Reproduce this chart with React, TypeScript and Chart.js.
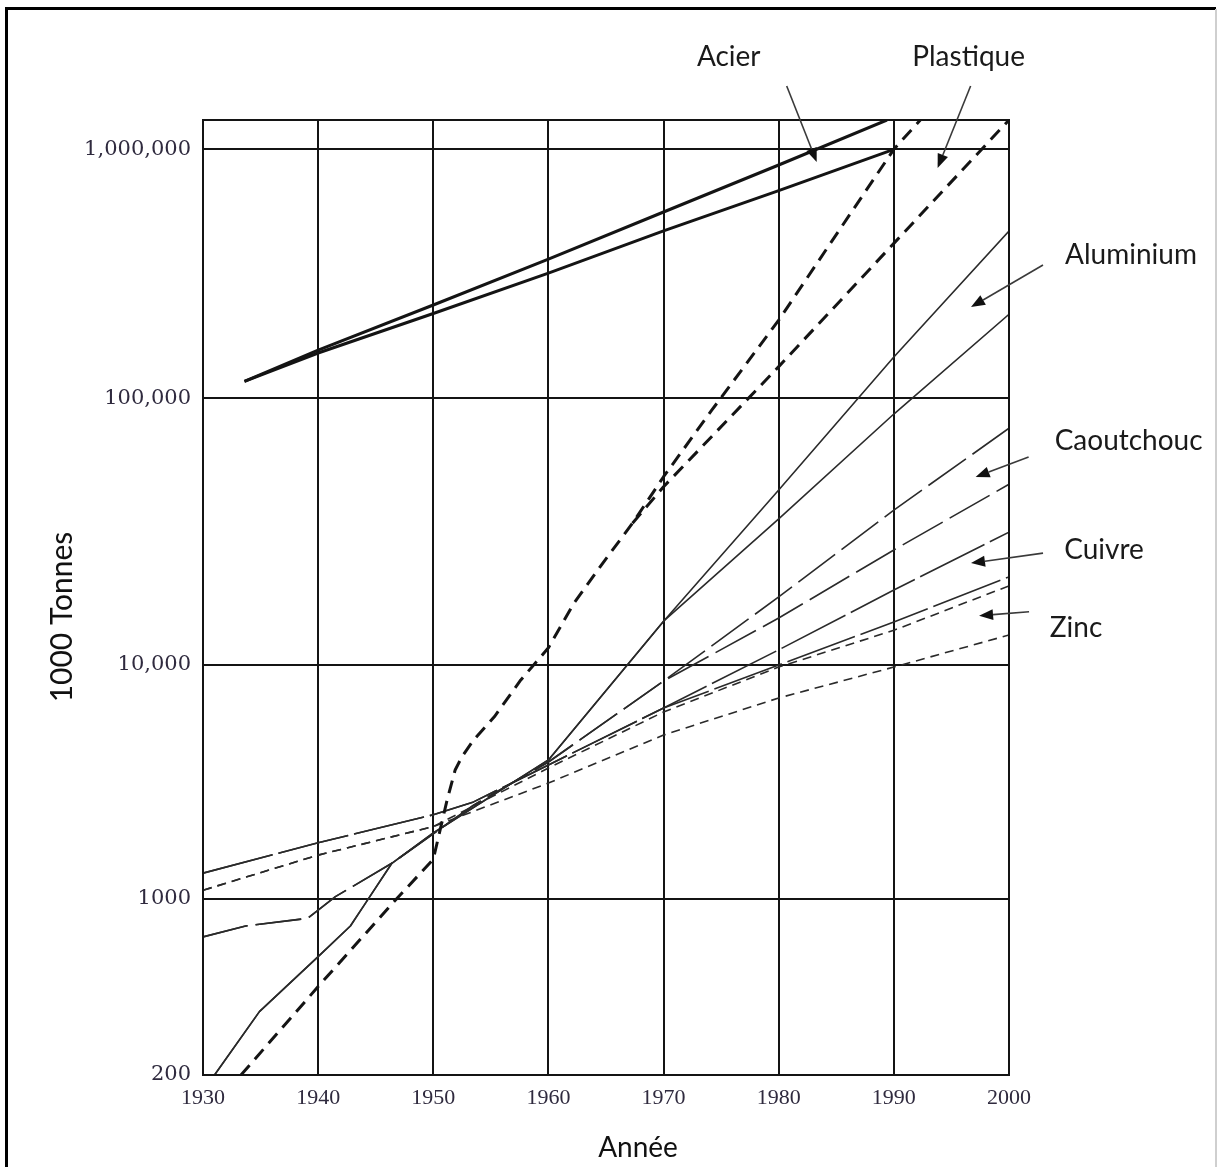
import React, { useEffect, useRef } from 'react';
import { Chart, registerables, LogarithmicScale } from 'chart.js';

// ---------------- data ----------------
const xTickYears = [1930, 1940, 1950, 1960, 1970, 1980, 1990, 2000];
const yTickValues = [200, 1000, 10000, 100000, 1000000];
const yTickLabels = ['200', '1000', '10,000', '100,000', '1,000,000'];
const yAxisMin = 200;
const yAxisMax = 1300000;

// Acier (steel): two projections
const acierHighYears = [1933.6, 1940, 1950, 1960, 1970, 1980, 1989.4];
const acierHighValues = [117000, 156000, 237000, 362000, 560000, 865000, 1300000];
const acierLowYears = [1933.6, 1940, 1950, 1960, 1970, 1980, 1990];
const acierLowValues = [117000, 152000, 219000, 318000, 470000, 682000, 1000000];

// Plastique
const plastiqueHighYears = [1933.3, 1940, 1946.8, 1950, 1951.2, 1951.9, 1952.5, 1953.5, 1955.3, 1957.6, 1960, 1962.2, 1964.5, 1967.3, 1970, 1974.2, 1980, 1984.5, 1990, 1992.3];
const plastiqueHighValues = [200, 449, 1000, 1478, 2650, 3560, 4060, 4780, 6010, 8630, 11600, 17000, 23400, 34000, 50800, 90400, 206000, 420000, 1000000, 1300000];
const plastiqueLowYears = [1967.3, 1970, 1980, 1990, 2000];
const plastiqueLowValues = [34000, 46600, 134000, 419000, 1300000];

// Aluminium
const aluminiumYears = [1931.0, 1934.9, 1940, 1942.8, 1944.1, 1946.4, 1950, 1960, 1970, 1980, 1990, 2000];
const aluminiumHighValues = [200, 357, 590, 781, 961, 1421, 1915, 3930, 14600, 45300, 146500, 470000];
const aluminiumLowValues = [200, 357, 590, 781, 961, 1421, 1915, 3930, 14600, 35300, 87300, 217500];

// Caoutchouc
const caoutchoucYears = [1930, 1933.7, 1939.1, 1940, 1941.5, 1946.4, 1953.5, 1960, 1970, 1980, 1990, 2000];
const caoutchoucHighValues = [707, 781, 838, 904, 1023, 1421, 2520, 3850, 8540, 18000, 38100, 77200];
const caoutchoucLowValues = [707, 781, 838, 904, 1023, 1421, 2520, 3850, 8540, 15000, 27000, 47600];

// Cuivre
const cuivreYears = [1930, 1940, 1950, 1953.5, 1960, 1970, 1980, 1990, 2000];
const cuivreHighValues = [1290, 1740, 2290, 2600, 3740, 6550, 11400, 19100, 31500];
const cuivreLowValues = [1290, 1740, 2290, 2600, 3740, 6550, 10000, 14500, 21400];

// Zinc
const zincYears = [1930, 1940, 1950, 1960, 1970, 1980, 1990, 2000];
const zincHighValues = [1090, 1540, 2040, 3630, 6300, 9800, 13500, 19800];
const zincLowValues = [1090, 1540, 2040, 3130, 5020, 7230, 9800, 12960];

// Callout labels and the point (year, value) each arrow points to
const calloutLabels = ['Acier', 'Plastique', 'Aluminium', 'Caoutchouc', 'Cuivre', 'Zinc'];
const calloutYears = [1983.3, 1993.8, 1996.7, 1997.1, 1996.7, 1997.4];
const calloutValues = [889000, 841000, 232600, 50700, 24100, 15300];

const xTitle = 'Année';
const yTitle = '1000 Tonnes';

// ---------------- styles / layout ----------------
// relative placement of the callout tails and texts from the arrow tips (px)
const calloutGeometry = [
  { tail: [-30, -76], text: [-88, -105] },
  { tail: [33, -82], text: [31, -111] },
  { tail: [72, -42], text: [160, -52] },
  { tail: [53, -20], text: [153, -36] },
  { tail: [72, -10], text: [133, -13] },
  { tail: [50, -4], text: [97, 12] },
];

// the scanned original has slightly uneven decade heights; these are the
// fractional heights of the gridlines on the value axis
const yStopValues = [200, 1000, 10000, 100000, 1000000, 1300000];
const yStopFractions = [0, 0.1843, 0.4293, 0.7086, 0.9693, 1];

const INK = '#141414';
const THIN = '#2a2a2a';
const TICK_COLOR = '#2f2a3e';
const SANS = 'Lato, "Open Sans", sans-serif';

class SegmentedLogScale extends (LogarithmicScale as any) {
  static id = 'segmentedLog';
  static defaults = {};
  getPixelForValue(value: number) {
    if (value === undefined || value === null || isNaN(value) || value <= 0) return NaN;
    const lv = Math.log10(value);
    const ls = yStopValues.map((v) => Math.log10(v));
    let i = 0;
    while (i < ls.length - 2 && lv > ls[i + 1]) i++;
    const t = (lv - ls[i]) / (ls[i + 1] - ls[i]);
    const dec = yStopFractions[i] + t * (yStopFractions[i + 1] - yStopFractions[i]);
    return (this as any).getPixelForDecimal(dec);
  }
  getValueForPixel(pixel: number) {
    const dec = (this as any).getDecimalForPixel(pixel);
    const ls = yStopValues.map((v) => Math.log10(v));
    let i = 0;
    while (i < yStopFractions.length - 2 && dec > yStopFractions[i + 1]) i++;
    const t = (dec - yStopFractions[i]) / (yStopFractions[i + 1] - yStopFractions[i]);
    return Math.pow(10, ls[i] + t * (ls[i + 1] - ls[i]));
  }
}

Chart.register(...registerables, SegmentedLogScale as any);

const pts = (xs: number[], ys: number[]) => xs.map((x, i) => ({ x, y: ys[i] }));

const pageFramePlugin = {
  id: 'pageFrame',
  beforeDraw(chart: any) {
    const { ctx, width, height } = chart;
    ctx.save();
    ctx.fillStyle = '#ffffff';
    ctx.fillRect(0, 0, width, height);
    ctx.fillStyle = '#000000';
    ctx.fillRect(5, 7, 3, height - 7);
    ctx.fillRect(5, 7, 1211, 3);
    ctx.fillStyle = '#cfcfcf';
    ctx.fillRect(1215, 9, 2, height - 9);
    ctx.restore();
  },
  afterDraw(chart: any) {
    const { ctx, chartArea } = chart;
    const xs = chart.scales.x;
    const ys = chart.scales.y;
    ctx.save();
    // plot frame
    ctx.strokeStyle = INK;
    ctx.lineWidth = 2;
    ctx.strokeRect(chartArea.left, chartArea.top, chartArea.right - chartArea.left, chartArea.bottom - chartArea.top);

    // callouts
    ctx.font = `28px ${SANS}`;
    ctx.textAlign = 'center';
    ctx.textBaseline = 'middle';
    calloutLabels.forEach((label, i) => {
      const tipX = xs.getPixelForValue(calloutYears[i]);
      const tipY = ys.getPixelForValue(calloutValues[i]);
      const g = calloutGeometry[i];
      const tailX = tipX + g.tail[0];
      const tailY = tipY + g.tail[1];
      const ang = Math.atan2(tipY - tailY, tipX - tailX);
      const headLen = 14;
      const headHalf = 5.5;
      const baseX = tipX - headLen * Math.cos(ang);
      const baseY = tipY - headLen * Math.sin(ang);
      ctx.strokeStyle = '#3a3a3a';
      ctx.lineWidth = 1.6;
      ctx.beginPath();
      ctx.moveTo(tailX, tailY);
      ctx.lineTo(baseX, baseY);
      ctx.stroke();
      ctx.fillStyle = '#111111';
      ctx.beginPath();
      ctx.moveTo(tipX, tipY);
      ctx.lineTo(baseX + headHalf * Math.sin(ang), baseY - headHalf * Math.cos(ang));
      ctx.lineTo(baseX - headHalf * Math.sin(ang), baseY + headHalf * Math.cos(ang));
      ctx.closePath();
      ctx.fill();
      ctx.fillStyle = '#1a1a1a';
      ctx.fillText(label, tipX + g.text[0], tipY + g.text[1]);
    });

    // axis titles
    ctx.fillStyle = '#111111';
    ctx.font = `28px ${SANS}`;
    ctx.fillText(xTitle, chartArea.left + 435, chartArea.bottom + 73);
    ctx.font = `30px ${SANS}`;
    ctx.translate(62, chartArea.top + 497);
    ctx.rotate(-Math.PI / 2);
    ctx.fillText(yTitle, 0, 0);
    ctx.restore();
  },
};

export default function App() {
  const canvasRef = useRef<HTMLCanvasElement | null>(null);

  useEffect(() => {
    const canvas = canvasRef.current;
    if (!canvas) return;
    const thin = { borderColor: THIN, borderWidth: 1.6, pointRadius: 0, fill: false, tension: 0 };
    const chart = new Chart(canvas, {
      type: 'line',
      data: {
        datasets: [
          { label: 'Acier (haut)', data: pts(acierHighYears, acierHighValues), borderColor: INK, borderWidth: 3, pointRadius: 0, fill: false },
          { label: 'Acier (bas)', data: pts(acierLowYears, acierLowValues), borderColor: INK, borderWidth: 3, pointRadius: 0, fill: false },
          { label: 'Plastique (haut)', data: pts(plastiqueHighYears, plastiqueHighValues), borderColor: INK, borderWidth: 3, borderDash: [13, 8], pointRadius: 0, fill: false },
          { label: 'Plastique (bas)', data: pts(plastiqueLowYears, plastiqueLowValues), borderColor: INK, borderWidth: 3, borderDash: [13, 8], pointRadius: 0, fill: false },
          { label: 'Aluminium (haut)', data: pts(aluminiumYears, aluminiumHighValues), ...thin },
          { label: 'Aluminium (bas)', data: pts(aluminiumYears, aluminiumLowValues), ...thin },
          { label: 'Caoutchouc (haut)', data: pts(caoutchoucYears, caoutchoucHighValues), ...thin, borderDash: [46, 8] },
          { label: 'Caoutchouc (bas)', data: pts(caoutchoucYears, caoutchoucLowValues), ...thin, borderDash: [46, 8] },
          { label: 'Cuivre (haut)', data: pts(cuivreYears, cuivreHighValues), ...thin, borderDash: [72, 6] },
          { label: 'Cuivre (bas)', data: pts(cuivreYears, cuivreLowValues), ...thin, borderDash: [72, 6] },
          { label: 'Zinc (haut)', data: pts(zincYears, zincHighValues), ...thin, borderDash: [9, 6] },
          { label: 'Zinc (bas)', data: pts(zincYears, zincLowValues), ...thin, borderDash: [9, 6] },
        ] as any,
      },
      options: {
        animation: false,
        responsive: true,
        maintainAspectRatio: false,
        layout: { padding: { top: 120, right: 210, bottom: 0, left: 0 } },
        plugins: { legend: { display: false }, tooltip: { enabled: false } },
        elements: { line: { borderCapStyle: 'butt', borderJoinStyle: 'round' } },
        scales: {
          x: {
            type: 'linear',
            min: xTickYears[0],
            max: xTickYears[xTickYears.length - 1],
            afterBuildTicks: (s: any) => { s.ticks = xTickYears.map((v) => ({ value: v })); },
            afterFit: (s: any) => { s.height = 92; },
            ticks: {
              callback: (v: any) => String(v),
              font: { family: '"Liberation Serif", serif', size: 22 },
              color: TICK_COLOR,
              padding: 10,
              maxRotation: 0,
              autoSkip: false,
            },
            grid: { color: INK, lineWidth: 2, drawTicks: false },
            border: { color: INK, width: 2 },
          },
          y: {
            type: 'segmentedLog' as any,
            min: yAxisMin,
            max: yAxisMax,
            afterBuildTicks: (s: any) => { s.ticks = yTickValues.map((v) => ({ value: v })); },
            afterFit: (s: any) => { s.width = 203; },
            ticks: {
              callback: (v: any) => yTickLabels[yTickValues.indexOf(Number(v))] ?? '',
              font: { family: '"DejaVu Serif", serif', size: 21 },
              color: TICK_COLOR,
              padding: 12,
              autoSkip: false,
            },
            grid: { color: INK, lineWidth: 2, drawTicks: false },
            border: { color: INK, width: 2 },
          },
        } as any,
      },
      plugins: [pageFramePlugin as any],
    });
    return () => chart.destroy();
  }, []);

  return (
    <div style={{ position: 'fixed', left: 0, top: 0, width: 1219, height: 1167, background: '#fff' }}>
      <canvas ref={canvasRef} />
    </div>
  );
}
